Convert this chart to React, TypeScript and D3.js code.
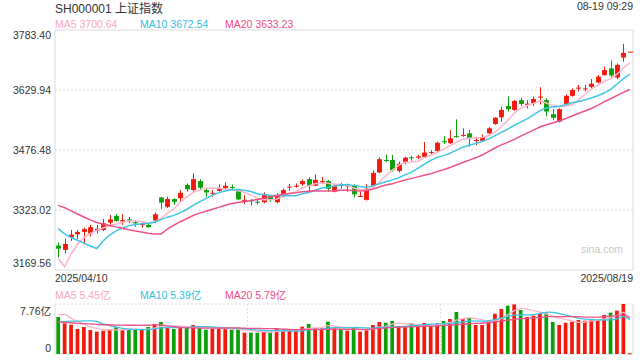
import React from 'react';
import * as d3 from 'd3';

// trading days shown
const dates = [
  '04/10','04/11','04/14','04/15','04/16','04/17','04/18','04/21','04/22','04/23','04/24','04/25','04/28','04/29','04/30',
  '05/06','05/07','05/08','05/09','05/12','05/13','05/14','05/15','05/16','05/19','05/20','05/21','05/22','05/23','05/26','05/27','05/28','05/29','05/30',
  '06/03','06/04','06/05','06/06','06/09','06/10','06/11','06/12','06/13','06/16','06/17','06/18','06/19','06/20','06/23','06/24','06/25','06/26','06/27','06/30',
  '07/01','07/02','07/03','07/04','07/07','07/08','07/09','07/10','07/11','07/14','07/15','07/16','07/17','07/18','07/21','07/22','07/23','07/24','07/25','07/28','07/29','07/30','07/31',
  '08/01','08/04','08/05','08/06','08/07','08/08','08/11','08/12','08/13','08/14','08/15','08/18','08/19'
].map(d => '2025/' + d);

const opens = [
  3232,3221,3253,3261,3267,3263,3271,3272,3291,3308,3294,3299,3292,3285,3285,
  3296,3355,3331,3351,3353,3387,3374,3397,3374,3365,3372,3379,3382,3374,3347,3348,3344,3343,3359,
  3343,3364,3381,3383,3389,3402,3385,3395,3397,3370,3387,3384,3385,3357,3349,3385,3419,3451,3451,3423,
  3445,3458,3457,3459,3469,3474,3499,3494,3512,3513,3519,3500,3500,3519,3543,3560,3589,3579,3604,3592,3596,3611,3604,
  3568,3549,3593,3615,3634,3632,3638,3649,3668,3685,3662,3713,3728
];
const highs = [
  3240,3250,3272,3272,3278,3285,3285,3300,3310,3313,3313,3305,3297,3293,3289,
  3317,3357,3357,3353,3374,3391,3417,3402,3378,3374,3389,3394,3388,3377,3361,3351,3349,3368,3361,
  3366,3378,3389,3391,3401,3407,3414,3407,3400,3390,3393,3390,3389,3370,3389,3424,3458,3464,3464,3447,
  3459,3462,3464,3497,3476,3498,3512,3527,3555,3532,3528,3510,3516,3536,3560,3587,3613,3604,3610,3604,3613,3637,3609,
  3581,3583,3619,3634,3643,3643,3658,3668,3690,3705,3698,3748,3728
];
const lows = [
  3202,3212,3244,3249,3235,3255,3263,3269,3280,3293,3285,3289,3280,3278,3278,
  3289,3325,3328,3336,3344,3370,3370,3374,3357,3357,3370,3377,3374,3348,3338,3334,3337,3340,3344,
  3340,3361,3372,3380,3385,3370,3384,3389,3370,3368,3377,3370,3355,3357,3347,3378,3417,3445,3421,3419,
  3440,3449,3453,3458,3465,3470,3492,3492,3508,3510,3485,3489,3499,3517,3541,3549,3575,3577,3589,3583,3589,3593,3563,
  3553,3547,3590,3613,3626,3626,3634,3647,3667,3662,3658,3702,3728
];
const closes = [
  3224,3236,3260,3267,3274,3279,3275,3289,3299,3295,3297,3296,3289,3287,3279,
  3312,3342,3351,3344,3367,3376,3402,3380,3368,3367,3378,3385,3380,3350,3349,3345,3342,3361,3349,
  3359,3374,3383,3385,3397,3385,3400,3397,3377,3385,3385,3386,3363,3359,3377,3418,3453,3449,3425,3441,
  3457,3456,3460,3470,3471,3495,3497,3506,3510,3515,3505,3502,3510,3532,3559,3579,3581,3602,3594,3595,3607,3613,3575,
  3559,3581,3615,3630,3636,3634,3646,3664,3681,3667,3694,3725,3728
];
// volume, 亿
const volumes = [
  5.74,4.76,4.55,3.88,4.19,3.72,3.47,3.62,3.83,4.14,3.72,3.72,3.78,3.78,4.19,
  4.66,4.97,4.09,3.88,4.09,4.14,4.50,4.09,3.78,3.93,3.93,3.93,3.78,3.83,3.31,3.31,3.31,3.47,3.47,
  3.88,3.78,3.62,3.62,4.24,4.66,4.04,3.98,5.02,3.98,3.83,3.62,4.09,3.47,3.72,4.50,4.97,4.86,5.12,4.35,
  4.24,4.76,4.35,4.81,4.35,4.81,5.12,5.43,6.52,5.43,5.64,4.50,4.50,5.17,6.26,6.98,7.50,7.70,6.83,5.74,5.95,6.31,6.31,
  4.97,4.50,4.86,5.02,5.28,5.17,5.38,5.28,6.05,6.42,6.73,7.76,0.12
];
// the 19 sessions before 04/10, only used to start the moving averages
const warmCloses = [3358.7,3419.6,3426.4,3429.8,3426.4,3408.9,3364.8,3370.0,3370.0,3368.7,3373.8,3351.3,3335.8,3348.4,3350.1,3342.0,3096.6,3145.6,3186.8];
const warmVolumes = [5.4,5.8,5.7,5.2,4.7,4.6,5.0,4.5,4.3,4.2,3.9,3.8,4.1,3.8,3.7,4.3,7.4,6.4,6.4];

const priceTicks = [3169.56, 3323.02, 3476.48, 3629.94, 3783.40];
const maPeriods = [5, 10, 20];
const maColors = ['#ffb3c9', '#3ec5e6', '#ef5188'];
const maLabelColors = ['#fba6c4', '#2fbfe0', '#ee4c86'];
const priceMaText = ['3700.64', '3672.54', '3633.23'];
const volMaText = ['5.45亿', '5.39亿', '5.79亿'];

const UP = '#f21a0c';
const DOWN = '#0aa00a';
const GRID = '#dcdcdc';
const TXT = '#333';
const FONT = '"Liberation Sans", Arial, "Noto Sans CJK SC", sans-serif';

function movingAvg(warm, vals, k) {
  const all = warm.concat(vals);
  return vals.map((_, i) => d3.mean(all.slice(warm.length + i - k + 1, warm.length + i + 1)));
}

export default function App() {
  const L = 55, R = 633;
  const pTop = 30, pBot = 270;
  const vTop = 304, vBot = 354;
  const n = closes.length;

  const x = d3.scaleBand().domain(d3.range(n)).range([L, R]);
  const bw = x.bandwidth();
  const cx = i => x(i) + bw / 2;
  const y = d3.scaleLinear().domain([priceTicks[0], priceTicks[priceTicks.length - 1]]).range([pBot, pTop]);
  const vMax = d3.max(volumes);
  const yv = d3.scaleLinear().domain([0, vMax]).range([vBot, vTop]);

  const priceLine = d3.line().x((d, i) => cx(i)).y(d => y(d));
  const volLine = d3.line().x((d, i) => cx(i)).y(d => yv(d)).curve(d3.curveCatmullRom);

  const priceMas = maPeriods.map(k => movingAvg(warmCloses, closes, k));
  const volMas = maPeriods.map(k => movingAvg(warmVolumes, volumes, k));

  const bodyW = bw * 0.76;
  const volW = bw * 0.58;
  const labelX = [55, 140, 225];

  return (
    <div style={{ position: 'absolute', left: 0, top: 0 }}>
      <svg width={640} height={360} style={{ display: 'block', fontFamily: FONT }}>
        <rect width={640} height={360} fill="#fff" />
        <text x={55} y={12.5} fontSize={12} fill={TXT}>SH000001 上证指数</text>
        <text x={633} y={9.8} fontSize={10.5} fill={TXT} textAnchor="end">08-19 09:29</text>
        {maPeriods.map((k, j) => (
          <text key={'pl' + k} x={labelX[j]} y={27.8} fontSize={10.5} fill={maLabelColors[j]}>{`MA${k} ${priceMaText[j]}`}</text>
        ))}

        {/* price grid */}
        {priceTicks.slice(1, -1).map(t => (
          <line key={'g' + t} x1={L} x2={R} y1={y(t)} y2={y(t)} stroke={GRID} strokeDasharray="2,2" />
        ))}
        <rect x={L} y={pTop} width={R - L} height={pBot - pTop} fill="none" stroke={GRID} />
        {priceTicks.map((t, i) => {
          let yy = y(t) + 3.8;
          if (i === priceTicks.length - 1) yy = y(t) + 8.8;
          if (i === 0) yy = y(t) - 3;
          return <text key={'t' + t} x={51} y={yy} fontSize={10.5} fill={TXT} textAnchor="end">{t.toFixed(2)}</text>;
        })}
        <text x={L} y={281.5} fontSize={10.5} fill={TXT}>{dates[0]}</text>
        <text x={R} y={281.5} fontSize={10.5} fill={TXT} textAnchor="end">{dates[n - 1]}</text>
        <text x={623} y={253} fontSize={10.5} fill="#c8c8c8" textAnchor="end">sina.com</text>

        {/* candles */}
        {closes.map((c, i) => {
          const o = opens[i];
          const col = c >= o ? UP : DOWN;
          const top = y(Math.max(o, c));
          const h = Math.max(1, y(Math.min(o, c)) - top);
          const xc = Math.round(cx(i)) + 0.5;
          return (
            <g key={'c' + i}>
              <line x1={xc} x2={xc} y1={y(highs[i])} y2={y(lows[i])} stroke={col} strokeWidth={1} />
              <rect x={xc - bodyW / 2} y={top} width={bodyW} height={h} fill={col} />
            </g>
          );
        })}
        {priceMas.map((m, j) => (
          <path key={'pm' + j} d={priceLine(m)} fill="none" stroke={maColors[j]} strokeWidth={1.5} />
        ))}

        {/* volume pane */}
        {maPeriods.map((k, j) => (
          <text key={'vl' + k} x={labelX[j]} y={298.5} fontSize={10.5} fill={maLabelColors[j]}>{`MA${k} ${volMaText[j]}`}</text>
        ))}
        <line x1={L} x2={R} y1={vTop} y2={vTop} stroke={GRID} strokeDasharray="2,2" />
        {[30, 60].map(k => (
          <line key={'vg' + k} x1={x(k)} x2={x(k)} y1={vTop} y2={vBot} stroke={GRID} strokeDasharray="2,2" />
        ))}
        <line x1={L} x2={L} y1={vTop} y2={vBot} stroke={GRID} />
        <line x1={R} x2={R} y1={vTop} y2={vBot} stroke={GRID} />
        <line x1={L} x2={R} y1={vBot} y2={vBot} stroke={GRID} />
        <text x={51} y={315} fontSize={10.5} fill={TXT} textAnchor="end">{vMax.toFixed(2) + '亿'}</text>
        <text x={51} y={352} fontSize={10.5} fill={TXT} textAnchor="end">0</text>
        {volumes.map((v, i) => (
          <rect key={'v' + i} x={cx(i) - volW / 2} y={yv(v)} width={volW} height={Math.max(1, vBot - yv(v))}
            fill={closes[i] >= opens[i] ? UP : DOWN} />
        ))}
        {volMas.map((m, j) => (
          <path key={'vm' + j} d={volLine(m)} fill="none" stroke={maColors[j]} strokeWidth={1.3} />
        ))}
      </svg>
    </div>
  );
}
